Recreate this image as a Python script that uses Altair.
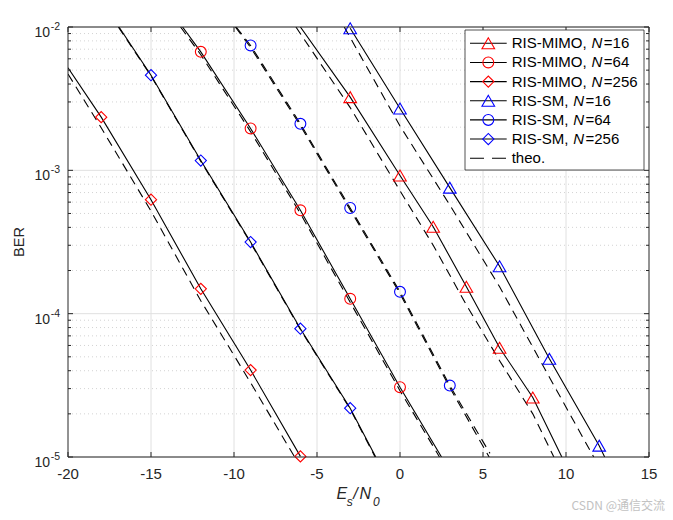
import altair as alt
import pandas as pd

# ---------------- data ----------------
# simulated curves (solid), incl. the points where they leave the plot box
es_mimo16 = [-6.0, -3, 0, 2, 4, 6, 8, 9.75]
ber_mimo16 = [1.0e-2, 3.24e-3, 9.2e-4, 4.04e-4, 1.54e-4, 5.78e-5, 2.6e-5, 1.0e-5]
es_mimo64 = [-13.1, -12, -9, -6, -3, 0, 2.5]
ber_mimo64 = [1.0e-2, 6.71e-3, 1.96e-3, 5.26e-4, 1.27e-4, 3.07e-5, 1.0e-5]
es_mimo256 = [-20, -18, -15, -12, -9, -6]
ber_mimo256 = [5.2e-3, 2.35e-3, 6.24e-4, 1.49e-4, 4.04e-5, 1.01e-5]
es_sm16 = [-3, 0, 3, 6, 9, 12, 12.33]
ber_sm16 = [9.8e-3, 2.70e-3, 7.57e-4, 2.14e-4, 4.84e-5, 1.2e-5, 1.0e-5]
es_sm64 = [-9.87, -9, -6, -3, 0, 3, 5.42]
ber_sm64 = [1.0e-2, 7.43e-3, 2.11e-3, 5.46e-4, 1.42e-4, 3.15e-5, 1.06e-5]
es_sm256 = [-16.93, -15, -12, -9, -6, -3, -1.46]
ber_sm256 = [1.0e-2, 4.61e-3, 1.17e-3, 3.16e-4, 7.85e-5, 2.19e-5, 1.0e-5]

# theoretical curves (dashed)
th_es_mimo16 = [-6.27, -3, 0, 2, 4, 6, 8, 9.27]
th_ber_mimo16 = [1.0e-2, 2.74e-3, 7.2e-4, 3.0e-4, 1.15e-4, 4.7e-5, 2.0e-5, 1.0e-5]
th_es_mimo64 = [-13.22, -12, -9, -6, -3, 0, 2.38]
th_ber_mimo64 = [1.0e-2, 6.4e-3, 1.86e-3, 5.0e-4, 1.2e-4, 2.9e-5, 1.0e-5]
th_es_mimo256 = [-20, -18, -15, -12, -9, -6.35]
th_ber_mimo256 = [4.7e-3, 1.98e-3, 5.2e-4, 1.23e-4, 3.3e-5, 1.0e-5]
th_es_sm16 = [-3.36, 0, 3, 6, 9, 11.67]
th_ber_sm16 = [1.0e-2, 2.04e-3, 5.73e-4, 1.54e-4, 3.6e-5, 1.0e-5]
th_es_sm64 = [-9.92, -9, -6, -3, 0, 3, 5.37]
th_ber_sm64 = [1.0e-2, 7.2e-3, 2.05e-3, 5.3e-4, 1.38e-4, 3.05e-5, 1.0e-5]
th_es_sm256 = [-16.97, -15, -12, -9, -6, -3, -1.5]
th_ber_sm256 = [1.0e-2, 4.56e-3, 1.155e-3, 3.12e-4, 7.75e-5, 2.16e-5, 1.0e-5]

# markers
mk_es_mimo16 = [-3, 0, 2, 4, 6, 8]
mk_ber_mimo16 = [3.24e-3, 9.2e-4, 4.04e-4, 1.54e-4, 5.78e-5, 2.6e-5]
mk_es_mimo64 = [-12, -9, -6, -3, 0]
mk_ber_mimo64 = [6.71e-3, 1.96e-3, 5.26e-4, 1.27e-4, 3.07e-5]
mk_es_mimo256 = [-18, -15, -12, -9, -6]
mk_ber_mimo256 = [2.35e-3, 6.24e-4, 1.49e-4, 4.04e-5, 1.01e-5]
mk_es_sm16 = [-3, 0, 3, 6, 9, 12]
mk_ber_sm16 = [9.8e-3, 2.70e-3, 7.57e-4, 2.14e-4, 4.84e-5, 1.2e-5]
mk_es_sm64 = [-9, -6, -3, 0, 3]
mk_ber_sm64 = [7.43e-3, 2.11e-3, 5.46e-4, 1.42e-4, 3.15e-5]
mk_es_sm256 = [-15, -12, -9, -6, -3]
mk_ber_sm256 = [4.61e-3, 1.17e-3, 3.16e-4, 7.85e-5, 2.19e-5]

legend_names = ["RIS-MIMO,", "RIS-MIMO,", "RIS-MIMO,", "RIS-SM,", "RIS-SM,", "RIS-SM,"]
legend_n = ["=16", "=64", "=256", "=16", "=64", "=256"]
x_ticks = [-20, -15, -10, -5, 0, 5, 10, 15]
y_decades = [1e-5, 1e-4, 1e-3, 1e-2]
y_exps = ["-5", "-4", "-3", "-2"]

# ---------------- styling ----------------
W, H = 581, 430
FONT = "Liberation Sans"
AX = "#262626"
RED, BLUE = "#ff0000", "#0000ff"
TRI, CIR, DIA = "triangle-up", "circle", "diamond"
SIZES = {TRI: 160, CIR: 118, DIA: 125}

xs = alt.Scale(domain=[-20, 15], nice=False, zero=False)
ys = alt.Scale(type="log", domain=[1e-5, 1e-2], nice=False)


def X(f):
    return alt.X(f"{f}:Q", scale=xs, axis=None)


def Y(f):
    return alt.Y(f"{f}:Q", scale=ys, axis=None)


def PX(f):
    return alt.X(f"{f}:Q", scale=None, axis=None)


def PY(f):
    return alt.Y(f"{f}:Q", scale=None, axis=None)


# ---------------- tables ----------------
rows = []
for key, es, ber, dashed in [
    ("mimo16", es_mimo16, ber_mimo16, False),
    ("mimo64", es_mimo64, ber_mimo64, False),
    ("mimo256", es_mimo256, ber_mimo256, False),
    ("sm16", es_sm16, ber_sm16, False),
    ("sm64", es_sm64, ber_sm64, True),
    ("sm256", es_sm256, ber_sm256, False),
    ("t_mimo16", th_es_mimo16, th_ber_mimo16, True),
    ("t_mimo64", th_es_mimo64, th_ber_mimo64, True),
    ("t_mimo256", th_es_mimo256, th_ber_mimo256, True),
    ("t_sm16", th_es_sm16, th_ber_sm16, True),
    ("t_sm64", th_es_sm64, th_ber_sm64, True),
    ("t_sm256", th_es_sm256, th_ber_sm256, True),
]:
    for i, (e, b) in enumerate(zip(es, ber)):
        rows.append({"key": key, "es": e, "ber": b, "i": i, "dashed": dashed})
lines = pd.DataFrame(rows)

mrows = []
for es, ber, shp, col in [
    (mk_es_mimo16, mk_ber_mimo16, TRI, RED),
    (mk_es_mimo64, mk_ber_mimo64, CIR, RED),
    (mk_es_mimo256, mk_ber_mimo256, DIA, RED),
    (mk_es_sm16, mk_ber_sm16, TRI, BLUE),
    (mk_es_sm64, mk_ber_sm64, CIR, BLUE),
    (mk_es_sm256, mk_ber_sm256, DIA, BLUE),
]:
    for e, b in zip(es, ber):
        mrows.append({"es": e, "ber": b, "shape": shp, "color": col, "size": SIZES[shp]})
markers = pd.DataFrame(mrows)

minor = [m * d for d in [1e-5, 1e-4, 1e-3] for m in range(2, 10)]
ymaj = pd.DataFrame({"v": y_decades, "e": y_exps})
ymin = pd.DataFrame({"v": minor})
xt = pd.DataFrame({"v": x_ticks, "lab": [str(v) for v in x_ticks]})
xgrid = pd.DataFrame({"v": x_ticks[1:-1]})
one = pd.DataFrame({"a": [0]})

# legend geometry (pixels in plot coordinates)
LX0, LX1, LY0, LY1 = 397, 576, 3, 143
ROW0, ROWSTEP = 16.3, 19.15
shapes = [TRI, CIR, DIA, TRI, CIR, DIA]
cols = [RED, RED, RED, BLUE, BLUE, BLUE]
leg = pd.DataFrame({
    "ly": [ROW0 + i * ROWSTEP for i in range(6)],
    "name": legend_names,
    "n": legend_n,
    "shape": shapes,
    "color": cols,
    "size": [SIZES[s] for s in shapes],
    "nx": [523.5 if nm.startswith("RIS-MIMO") else 505.2 for nm in legend_names],
})
leg["rx"] = leg["nx"] + 12.3
leg_theo = pd.DataFrame({"ly": [ROW0 + 6 * ROWSTEP], "t": ["theo."]})

# ---------------- layers ----------------
grid_minor = alt.Chart(ymin).mark_rule(color="#c8c8c8", strokeWidth=0.8, strokeDash=[1, 3]).encode(
    y=Y("v"), x=alt.value(0), x2=alt.value(W))
grid_major = alt.Chart(ymaj).mark_rule(color="#e0e0e0", strokeWidth=1).encode(
    y=Y("v"), x=alt.value(0), x2=alt.value(W))
grid_x = alt.Chart(xgrid).mark_rule(color="#e0e0e0", strokeWidth=1).encode(
    x=X("v"), y=alt.value(0), y2=alt.value(H))

solid = alt.Chart(lines).transform_filter("!datum.dashed").mark_line(
    color="black", strokeWidth=1.1, clip=True).encode(
    x=X("es"), y=Y("ber"), detail="key:N", order="i:Q")
dashed = alt.Chart(lines).transform_filter("datum.dashed").mark_line(
    color="black", strokeWidth=1.1, strokeDash=[9, 6], clip=True).encode(
    x=X("es"), y=Y("ber"), detail="key:N", order="i:Q")

pts = alt.Chart(markers).mark_point(filled=False, strokeWidth=1.1, opacity=1).encode(
    x=X("es"), y=Y("ber"),
    shape=alt.Shape("shape:N", scale=None),
    color=alt.Color("color:N", scale=None),
    size=alt.Size("size:Q", scale=None))

# ticks (inward) on all four sides
tk_xb = alt.Chart(xt).mark_rule(color=AX).encode(x=X("v"), y=alt.value(H), y2=alt.value(H - 5))
tk_xt = alt.Chart(xt).mark_rule(color=AX).encode(x=X("v"), y=alt.value(0), y2=alt.value(5))
tk_yl = alt.Chart(ymaj).mark_rule(color=AX).encode(y=Y("v"), x=alt.value(0), x2=alt.value(5))
tk_yr = alt.Chart(ymaj).mark_rule(color=AX).encode(y=Y("v"), x=alt.value(W), x2=alt.value(W - 5))
tk_yl2 = alt.Chart(ymin).mark_rule(color=AX).encode(y=Y("v"), x=alt.value(0), x2=alt.value(3))
tk_yr2 = alt.Chart(ymin).mark_rule(color=AX).encode(y=Y("v"), x=alt.value(W), x2=alt.value(W - 3))

frame = alt.Chart(one).mark_rect(fillOpacity=0, stroke=AX, strokeWidth=1).encode(
    x=alt.value(0), x2=alt.value(W), y=alt.value(0), y2=alt.value(H))

xlab = alt.Chart(xt).mark_text(font=FONT, fontSize=15, color=AX, baseline="middle").encode(
    x=X("v"), y=alt.value(H + 17), text="lab:N")
ylab10 = alt.Chart(ymaj).mark_text(font=FONT, fontSize=14, color=AX, align="right",
                                   baseline="middle", dy=6).encode(
    y=Y("v"), x=alt.value(-18), text=alt.value("10"))
ylabe = alt.Chart(ymaj).mark_text(font=FONT, fontSize=10.5, color=AX, align="left",
                                  baseline="middle", dy=0).encode(
    y=Y("v"), x=alt.value(-17.3), text="e:N")

ytitle = alt.Chart(one).mark_text(font=FONT, fontSize=14.5, color=AX, angle=270,
                                  baseline="middle").encode(
    x=alt.value(-48), y=alt.value(H / 2), text=alt.value("BER"))


def tpiece(txt, x, y, size, italic=True):
    return alt.Chart(one).mark_text(font=FONT, fontSize=size, color=AX, align="left",
                                    baseline="alphabetic",
                                    fontStyle="italic" if italic else "normal").encode(
        x=alt.value(x), y=alt.value(y), text=alt.value(txt))


xtitle = [
    tpiece("E", 268.5, 472, 16),
    tpiece("s", 278.8, 478.5, 12),
    tpiece("/", 285.3, 472, 16),
    tpiece("N", 291.5, 472, 16),
    tpiece("0", 305.0, 478.5, 12),
]

wm = alt.Chart(one).mark_text(font="Noto Sans CJK SC", fontSize=12, color="#c2c2c2",
                              align="right", baseline="middle").encode(
    x=alt.value(597), y=alt.value(479), text=alt.value("CSDN @通信交流"))

# legend
lbox = alt.Chart(one).mark_rect(fill="white", stroke=AX, strokeWidth=0.8).encode(
    x=alt.value(LX0), x2=alt.value(LX1), y=alt.value(LY0), y2=alt.value(LY1))
lline = alt.Chart(leg).mark_rule(color="black", strokeWidth=1.1).encode(
    x=alt.value(402), x2=alt.value(438.7), y=PY("ly"))
ltheo = alt.Chart(leg_theo).mark_rule(color="black", strokeWidth=1.1, strokeDash=[14, 8]).encode(
    x=alt.value(402), x2=alt.value(438.7), y=PY("ly"))
lpts = alt.Chart(leg).mark_point(filled=False, strokeWidth=1.1, opacity=1).encode(
    x=alt.value(420.3), y=PY("ly"),
    shape=alt.Shape("shape:N", scale=None),
    color=alt.Color("color:N", scale=None),
    size=alt.Size("size:Q", scale=None))
ltxt1 = alt.Chart(leg).mark_text(font=FONT, fontSize=15, color="black", align="left",
                                 baseline="middle").encode(
    x=alt.value(443.7), y=PY("ly"), text="name:N")
ltxtN = alt.Chart(leg).mark_text(font=FONT, fontSize=15, color="black", align="left",
                                 baseline="middle", fontStyle="italic").encode(
    x=PX("nx"), y=PY("ly"), text=alt.value("N"))
ltxt3 = alt.Chart(leg).mark_text(font=FONT, fontSize=15, color="black", align="left",
                                 baseline="middle").encode(
    x=PX("rx"), y=PY("ly"), text="n:N")
ltxt7 = alt.Chart(leg_theo).mark_text(font=FONT, fontSize=15, color="black", align="left",
                                      baseline="middle").encode(
    x=alt.value(443.7), y=PY("ly"), text="t:N")

chart = alt.layer(
    grid_minor, grid_major, grid_x,
    solid, dashed, pts,
    tk_xb, tk_xt, tk_yl, tk_yr, tk_yl2, tk_yr2, frame,
    xlab, ylab10, ylabe, ytitle, *xtitle, wm,
    lbox, lline, ltheo, lpts, ltxt1, ltxtN, ltxt3, ltxt7,
).properties(
    width=W, height=H,
    autosize=alt.AutoSizeParams(type="none"),
    padding={"left": 60, "top": 19, "right": 16, "bottom": 63},
    background="white",
).configure_view(strokeWidth=0)

chart.save("out.html", embed_options={"renderer": "svg", "actions": False})
